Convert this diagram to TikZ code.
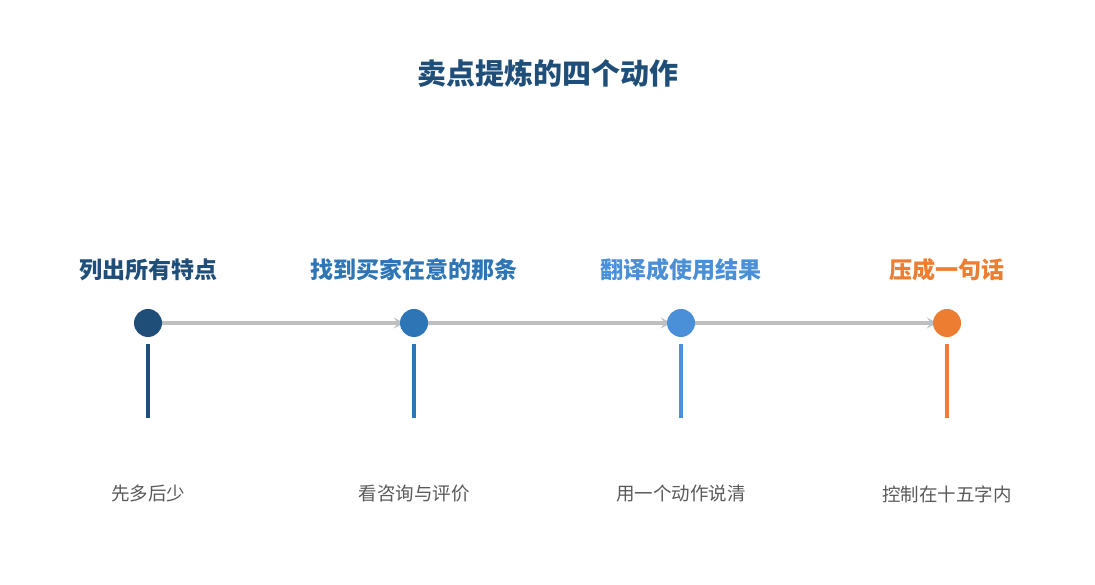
\documentclass[tikz,border=0pt]{standalone}
\usepackage{fontspec}
\newfontfamily\cjk{Noto Sans CJK SC}
\usetikzlibrary{arrows.meta}
\usetikzlibrary{positioning}
\usetikzlibrary{backgrounds}

\definecolor{stepA}{HTML}{1F4E79}
\definecolor{stepB}{HTML}{2E75B6}
\definecolor{stepC}{HTML}{4A90D9}
\definecolor{stepD}{HTML}{ED7D31}
\definecolor{linkgray}{HTML}{BFBFBF}
\definecolor{notegray}{HTML}{595959}

\tikzset{
  dot/.style = {circle, minimum size=28pt, inner sep=0pt, fill=#1},
  stem/.style = {line width=4pt, draw=#1},
  headline/.style = {font=\cjk\bfseries\fontsize{23}{26}\selectfont, text=#1},
  note/.style = {font=\cjk\fontsize{18.5}{22}\selectfont, text=notegray},
  link/.style = {draw=linkgray, line width=3.4pt, shorten >=-4pt, -{Stealth[length=10pt,width=11pt,inset=4pt]}},
}

\begin{document}
\begin{tikzpicture}[x=1pt,y=1pt]
\useasboundingbox (0,0) rectangle (1095,585);

% title
\node [font=\cjk\bfseries\fontsize{29}{32}\selectfont, text=stepA] (title) at (548,511) {卖点提炼的四个动作};

% draw points
\node [dot=stepA] (p1) at (148,262) {};
\node [dot=stepB] (p2) at (414,262) {};
\node [dot=stepC] (p3) at (681,262) {};
\node [dot=stepD] (p4) at (947,262) {};

% label steps
\node [headline=stepA] (h1) at (148,315) {列出所有特点};
\node [headline=stepB] (h2) at (414,315) {找到买家在意的那条};
\node [headline=stepC] (h3) at (681,315) {翻译成使用结果};
\node [headline=stepD] (h4) at (947,315) {压成一句话};

% connect points (behind the dots)
\begin{scope}[on background layer]
\draw [link] (p1) -- (p2);
\draw [link] (p2) -- (p3);
\draw [link] (p3) -- (p4);
\end{scope}

% stems
\coordinate (s1) at (148,167);
\coordinate (s2) at (414,167);
\coordinate (s3) at (681,167);
\coordinate (s4) at (947,167);
\draw [stem=stepA] ([yshift=-7pt]p1.south) -- (s1);
\draw [stem=stepB] ([yshift=-7pt]p2.south) -- (s2);
\draw [stem=stepC] ([yshift=-7pt]p3.south) -- (s3);
\draw [stem=stepD] ([yshift=-7pt]p4.south) -- (s4);

% notes
\node [note] (n1) at (148,91) {先多后少};
\node [note] (n2) at (414,91) {看咨询与评价};
\node [note] (n3) at (681,91) {用一个动作说清};
\node [note] (n4) at (947,91) {控制在十五字内};

\end{tikzpicture}
\end{document}
